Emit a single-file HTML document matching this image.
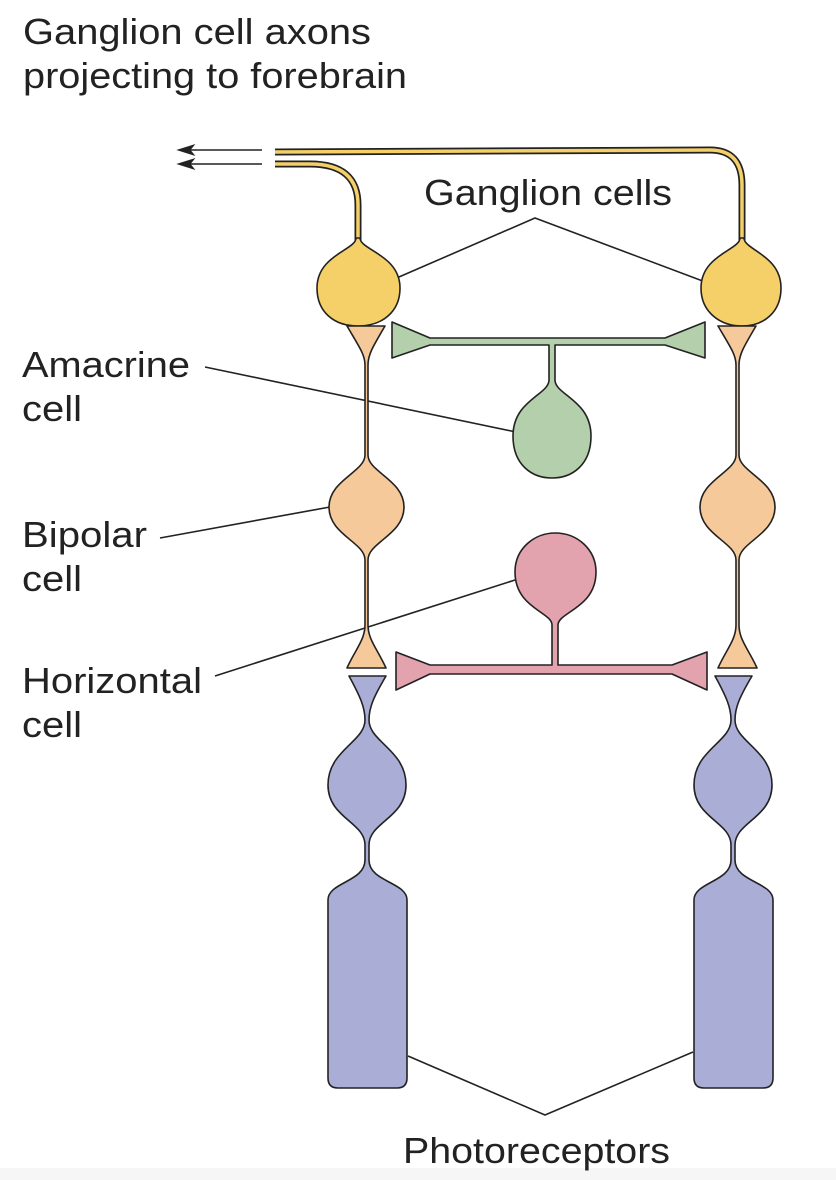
<!DOCTYPE html>
<html><head><meta charset="utf-8"><style>
html,body{margin:0;padding:0;background:#fff;}
svg{display:block;}
text{font-family:"Liberation Sans",sans-serif;fill:#222;}
</style></head><body>
<svg width="836" height="1180" viewBox="0 0 836 1180" xmlns="http://www.w3.org/2000/svg">
<rect x="0" y="1168" width="836" height="12" fill="#f6f6f6"/>
<g font-size="36">
<text x="23" y="44" textLength="348" lengthAdjust="spacingAndGlyphs">Ganglion cell axons</text>
<text x="23" y="88" textLength="384" lengthAdjust="spacingAndGlyphs">projecting to forebrain</text>
<text x="424" y="205" textLength="248" lengthAdjust="spacingAndGlyphs">Ganglion cells</text>
<text x="22" y="377" textLength="168" lengthAdjust="spacingAndGlyphs">Amacrine</text>
<text x="22" y="421" textLength="60" lengthAdjust="spacingAndGlyphs">cell</text>
<text x="22" y="547" textLength="125" lengthAdjust="spacingAndGlyphs">Bipolar</text>
<text x="22" y="591" textLength="60" lengthAdjust="spacingAndGlyphs">cell</text>
<text x="22" y="693" textLength="180" lengthAdjust="spacingAndGlyphs">Horizontal</text>
<text x="22" y="737" textLength="60" lengthAdjust="spacingAndGlyphs">cell</text>
<text x="403" y="1163" textLength="267" lengthAdjust="spacingAndGlyphs">Photoreceptors</text>
</g>
<g stroke="#222" stroke-width="1.6" fill="none">
<line x1="190" y1="150" x2="262" y2="150"/>
<line x1="190" y1="164" x2="262" y2="164"/>
<path d="M178,150 l16,-5 l-4,5 l4,5 Z M178,164 l16,-5 l-4,5 l4,5 Z" fill="#222" stroke-width="1"/>
<polyline points="392,280 535,218 708,283"/>
<line x1="205" y1="367" x2="516" y2="432"/>
<line x1="160" y1="538" x2="330" y2="507"/>
<line x1="215" y1="676" x2="515" y2="580"/>
<polyline points="408,1056 545,1115 693,1052"/>
</g>
<g fill="none" stroke-linecap="butt">
<path d="M275,152 L710,150 Q742,150 742,185 L742,250" stroke="#222" stroke-width="7"/>
<path d="M275,152 L710,150 Q742,150 742,185 L742,250" stroke="#f5cf68" stroke-width="3.5"/>
<path d="M275,164 L310,164 Q358,164 358,205 L358,250" stroke="#222" stroke-width="7"/>
<path d="M275,164 L310,164 Q358,164 358,205 L358,250" stroke="#f5cf68" stroke-width="3.5"/>
</g>
<g stroke="#222" stroke-width="1.6" stroke-linejoin="round">
<path d="M356,238 L360,238 C360,250 400,255 400,288 C400,312 382,326 358,326 C334,326 317,312 317,288 C317,255 356,250 356,238 Z" fill="#f5cf68"/>
<path d="M740,238 L744,238 C744,250 781,255 781,288 C781,312 764,326 742,326 C720,326 701,312 701,288 C701,255 740,250 740,238 Z" fill="#f5cf68"/>
<path d="M347,326 L385,326 C372,348 368,355 368,365 L368,455 C368,472 404,480 404,507 C404,535 368,542 368,560 L368,625 C368,640 378,650 386,668 L347,668 C355,650 365,640 365,625 L365,560 C365,542 329,535 329,507 C329,480 365,472 365,455 L365,365 C365,355 360,348 347,326 Z" fill="#f6c99a"/>
<path d="M718,326 L756,326 C743,348 739,355 739,365 L739,455 C739,472 775,480 775,507 C775,535 739,542 739,560 L739,625 C739,640 749,650 757,668 L718,668 C726,650 736,640 736,625 L736,560 C736,542 700,535 700,507 C700,480 736,472 736,455 L736,365 C736,355 731,348 718,326 Z" fill="#f6c99a"/>
<path d="M392,322 L430,338 L550,338 L550,338 L665,338 L705,322 L705,358 L665,345 L555,345 L555,380 C555,395 591,400 591,436 C591,465 572,478 552,478 C532,478 513,465 513,436 C513,400 549,395 549,380 L549,345 L430,345 L392,358 Z" fill="#b4cfab"/>
<path d="M396,652 L430,665 L552,665 L552,625 C552,612 515,608 515,572 C515,548 535,533 555,533 C578,533 596,550 596,572 C596,608 558,612 558,625 L558,665 L672,665 L707,652 L707,690 L672,674 L430,674 L396,690 Z" fill="#e2a3ae"/>
<path d="M349,676 L386,676 C373,698 369,708 369,720 C369,742 406,750 406,785 C406,818 369,822 369,845 L369,860 C369,882 407,882 407,900 L407,1078 Q407,1088 397,1088 L338,1088 Q328,1088 328,1078 L328,900 C328,882 365,882 365,860 L365,845 C365,822 328,818 328,785 C328,750 365,742 365,720 C365,708 361,698 349,676 Z" fill="#aaaed6"/>
<path d="M715,676 L752,676 C739,698 735,708 735,720 C735,742 772,750 772,785 C772,818 735,822 735,845 L735,860 C735,882 773,882 773,900 L773,1078 Q773,1088 763,1088 L704,1088 Q694,1088 694,1078 L694,900 C694,882 731,882 731,860 L731,845 C731,822 694,818 694,785 C694,750 731,742 731,720 C731,708 727,698 715,676 Z" fill="#aaaed6"/>
</g>
</svg>
</body></html>
